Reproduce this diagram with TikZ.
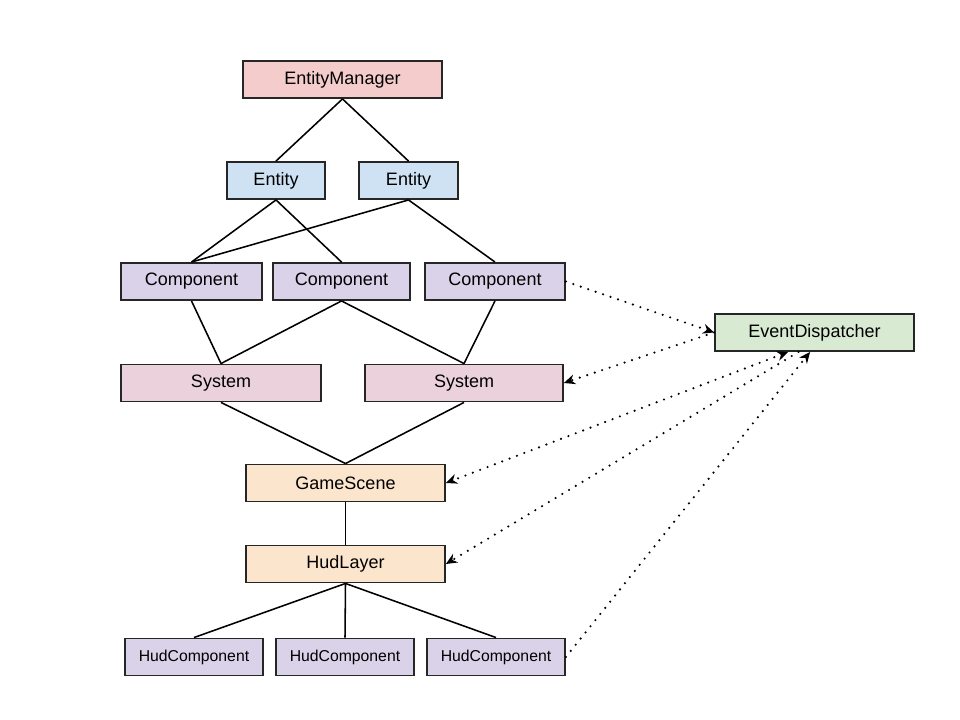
\documentclass[tikz,border=0pt]{standalone}
\usepackage{fontspec}
\setmainfont{Liberation Sans}
\usepackage{tikz}
\usetikzlibrary{arrows.meta}
\usetikzlibrary{positioning}

\definecolor{mgrred}{HTML}{F4CCCC}
\definecolor{entblue}{HTML}{CFE2F3}
\definecolor{cmppurple}{HTML}{D9D2E9}
\definecolor{sysmagenta}{HTML}{EAD1DC}
\definecolor{sceneorange}{HTML}{FCE5CD}
\definecolor{evtgreen}{HTML}{D9EAD3}

\tikzset{
  box/.style={rectangle,draw=black!85,line width=1.2pt,minimum height=0.93cm,inner sep=0pt,font=\fontsize{12.8}{14}\selectfont},
  smallbox/.style={box,font=\fontsize{11.2}{13}\selectfont},
  link/.style={line width=1.1pt},
  event/.style={line width=1.7pt,line cap=round,dash pattern=on 0pt off 5.6pt,-{Stealth[length=8pt,width=7pt]}}
}

\begin{document}
\begin{tikzpicture}[x=0.025cm,y=-0.025cm]
\useasboundingbox[fill=white] (0,0) rectangle (960,720);

\node[box,fill=mgrred,minimum width=4.975cm] (mgr) at (342.5,79.5) {EntityManager};

\node[box,fill=entblue,minimum width=2.45cm] (ent1) at (276,180.5) {Entity};
\node[box,fill=entblue,minimum width=2.475cm] (ent2) at (408.5,180.5) {Entity};

\node[box,fill=cmppurple,minimum width=3.525cm] (cmp1) at (191.5,281.5) {Component};
\node[box,fill=cmppurple,minimum width=3.425cm] (cmp2) at (341.5,281.5) {Component};
\node[box,fill=cmppurple,minimum width=3.5cm] (cmp3) at (495,281.5) {Component};

\node[box,fill=evtgreen,minimum width=4.975cm] (evt) at (814.5,332.5) {EventDispatcher};

\node[box,fill=sysmagenta,minimum width=5cm] (sys1) at (221,383) {System};
\node[box,fill=sysmagenta,minimum width=4.95cm] (sys2) at (464,383) {System};

\node[box,fill=sceneorange,minimum width=4.975cm] (scene) at (345.5,483) {GameScene};
\node[box,fill=sceneorange,minimum width=4.975cm] (hud) at (345.5,564) {HudLayer};

\node[smallbox,fill=cmppurple,minimum width=3.45cm] (hcmp1) at (194,657) {HudComponent};
\node[smallbox,fill=cmppurple,minimum width=3.45cm] (hcmp2) at (345,657) {HudComponent};
\node[smallbox,fill=cmppurple,minimum width=3.45cm] (hcmp3) at (496,657) {HudComponent};

% tree
\draw[link] (mgr.south) -- (ent1.north);
\draw[link] (mgr.south) -- (ent2.north);
\draw[link] (ent1.south) -- (cmp1.north);
\draw[link] (ent1.south) -- (cmp2.north);
\draw[link] (ent2.south) -- (cmp1.north);
\draw[link] (ent2.south) -- (cmp3.north);
\draw[link] (cmp1.south) -- (sys1.north);
\draw[link] (cmp2.south) -- (sys1.north);
\draw[link] (cmp2.south) -- (sys2.north);
\draw[link] (cmp3.south) -- (sys2.north);
\draw[link] (sys1.south) -- (scene.north);
\draw[link] (sys2.south) -- (scene.north);
\draw[link] (scene.south) -- (hud.north);
\draw[link] (hud.south) -- (hcmp1.north);
\draw[link] (hud.south) -- (hcmp2.north);
\draw[link] (hud.south) -- (hcmp3.north);

% events
\draw[event] (cmp3.east) -- (evt.west);
\draw[event] (evt.west) -- (sys2.east);
\draw[event,{Stealth[length=8pt,width=7pt]}-{Stealth[length=8pt,width=7pt]}] ([xshift=-0.66cm]evt.south) -- (scene.east);
\draw[event] ([xshift=-0.4cm]evt.south) -- (hud.east);
\draw[event] (hcmp3.east) -- ([xshift=-0.11cm]evt.south);

\end{tikzpicture}
\end{document}
